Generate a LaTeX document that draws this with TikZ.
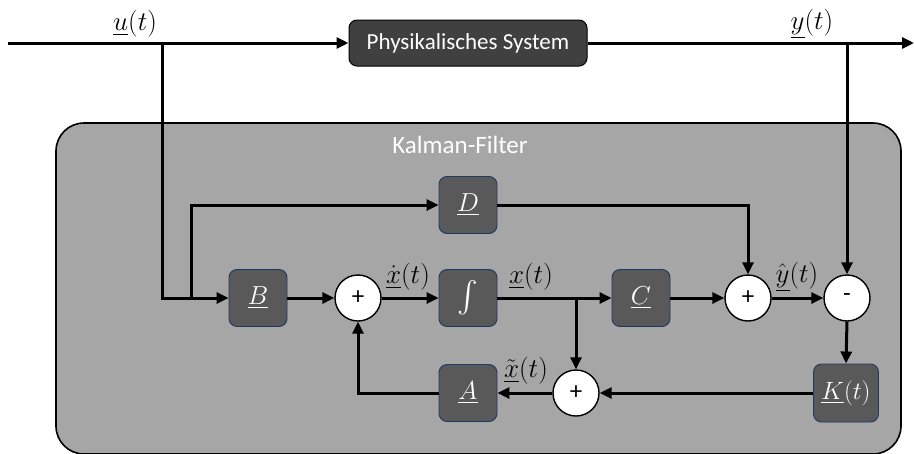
\RequirePackage{fix-cm}
\documentclass[tikz,border=0pt]{standalone}
\usepackage{amsmath}
\usepackage{exscale}
\usepackage{graphicx}
\usepackage{fontspec}
\setmainfont{Carlito}
\usetikzlibrary{arrows.meta}
\definecolor{boxfill}{HTML}{595959}
\definecolor{boxedge}{HTML}{1F3864}
\definecolor{physfill}{HTML}{404040}
\definecolor{kalfill}{HTML}{A6A6A6}
\tikzset{
  arr/.style={line width=3pt,-{Triangle[length=12pt,width=11pt]}},
  blk/.style={draw=boxedge,line width=0.9pt,fill=boxfill,rounded corners=8pt,
    minimum width=58pt,minimum height=57pt,inner sep=0pt,text=white,
    font=\fontsize{26}{28}\selectfont},
  sumc/.style={circle,draw=black,line width=1.4pt,fill=white,minimum size=46pt,
    inner sep=0pt,font=\fontsize{25}{27}\selectfont},
  lbl/.style={font=\fontsize{27}{29}\selectfont,inner sep=0pt}
}
\begin{document}
\begin{tikzpicture}[x=1pt,y=-1pt]
\useasboundingbox (0,0) rectangle (914,453);
% Kalman filter area
\node[draw=black,line width=1.6pt,fill=kalfill,rounded corners=28pt,
  minimum width=845pt,minimum height=331pt,inner sep=0pt] (kal) at (478.5,288.5) {};
\node[inner sep=0pt,text=white,font=\fontsize{25}{28}\selectfont] (kaltitle) at (460,145) {Kalman-Filter};
% physical system
\node[draw=black,line width=1pt,fill=physfill,rounded corners=8pt,minimum width=238pt,
  minimum height=46pt,inner sep=0pt,text=white,font=\fontsize{23}{26}\selectfont] (phys) at (468,43) {Physikalisches System};
% blocks
\node[blk] (B) at (258,298) {$\underline{B}$};
\node[blk] (int) at (468,298) {\scalebox{1.25}{$\int$}};
\node[blk] (D) at (468,205) {$\underline{D}$};
\node[blk] (C) at (641,298) {$\underline{C}$};
\node[blk] (A) at (468,393) {$\underline{A}$};
\node[blk,minimum width=65pt,minimum height=58pt,font=\fontsize{25}{27}\selectfont] (K) at (846,393) {$\underline{K}(t)$};
\node[sumc] (s1) at (358,298) {+};
\node[sumc] (s2) at (748,298) {+};
\node[sumc] (s3) at (576,393) {+};
\node[sumc] (mn) at (847,298) {-};
% coordinates
\coordinate (start) at (8,43);
\coordinate (end) at (914,43);
\coordinate (utap) at (162,43);
\coordinate (ytap) at (847,43);
\coordinate (dtap) at (191,298);
\coordinate (xtap) at (576,298);
% connectors
\draw[arr] (start) -- (phys.west);
\draw[arr] (phys.east) -- (end);
\draw[arr] (utap) |- (B.west);
\draw[arr] (ytap) -- (mn.north);
\draw[arr] (dtap) |- (D.west);
\draw[arr] (B.east) -- (s1.west);
\draw[arr] (s1.east) -- (int.west);
\draw[arr] (int.east) -- (C.west);
\draw[arr] (C.east) -- (s2.west);
\draw[arr] (s2.east) -- (mn.west);
\draw[arr] (D.east) -| (s2.north);
\draw[arr] (xtap) -- (s3.north);
\draw[arr] (mn.south) -- (K.north);
\draw[arr] (K.west) -- (s3.east);
\draw[arr] (s3.west) -- (A.east);
\draw[arr] (A.west) -| (s1.south);
% labels
\node[lbl] (lu) at (135,24) {$\underline{u}(t)$};
\node[lbl] (ly) at (812,24) {$\underline{y}(t)$};
\node[lbl] (lxd) at (408,277) {$\dot{\underline{x}}(t)$};
\node[lbl] (lx) at (531,277) {$\underline{x}(t)$};
\node[lbl] (lyh) at (797,277) {$\hat{\underline{y}}(t)$};
\node[lbl] (lxt) at (526,371) {$\tilde{\underline{x}}(t)$};
\end{tikzpicture}
\end{document}
